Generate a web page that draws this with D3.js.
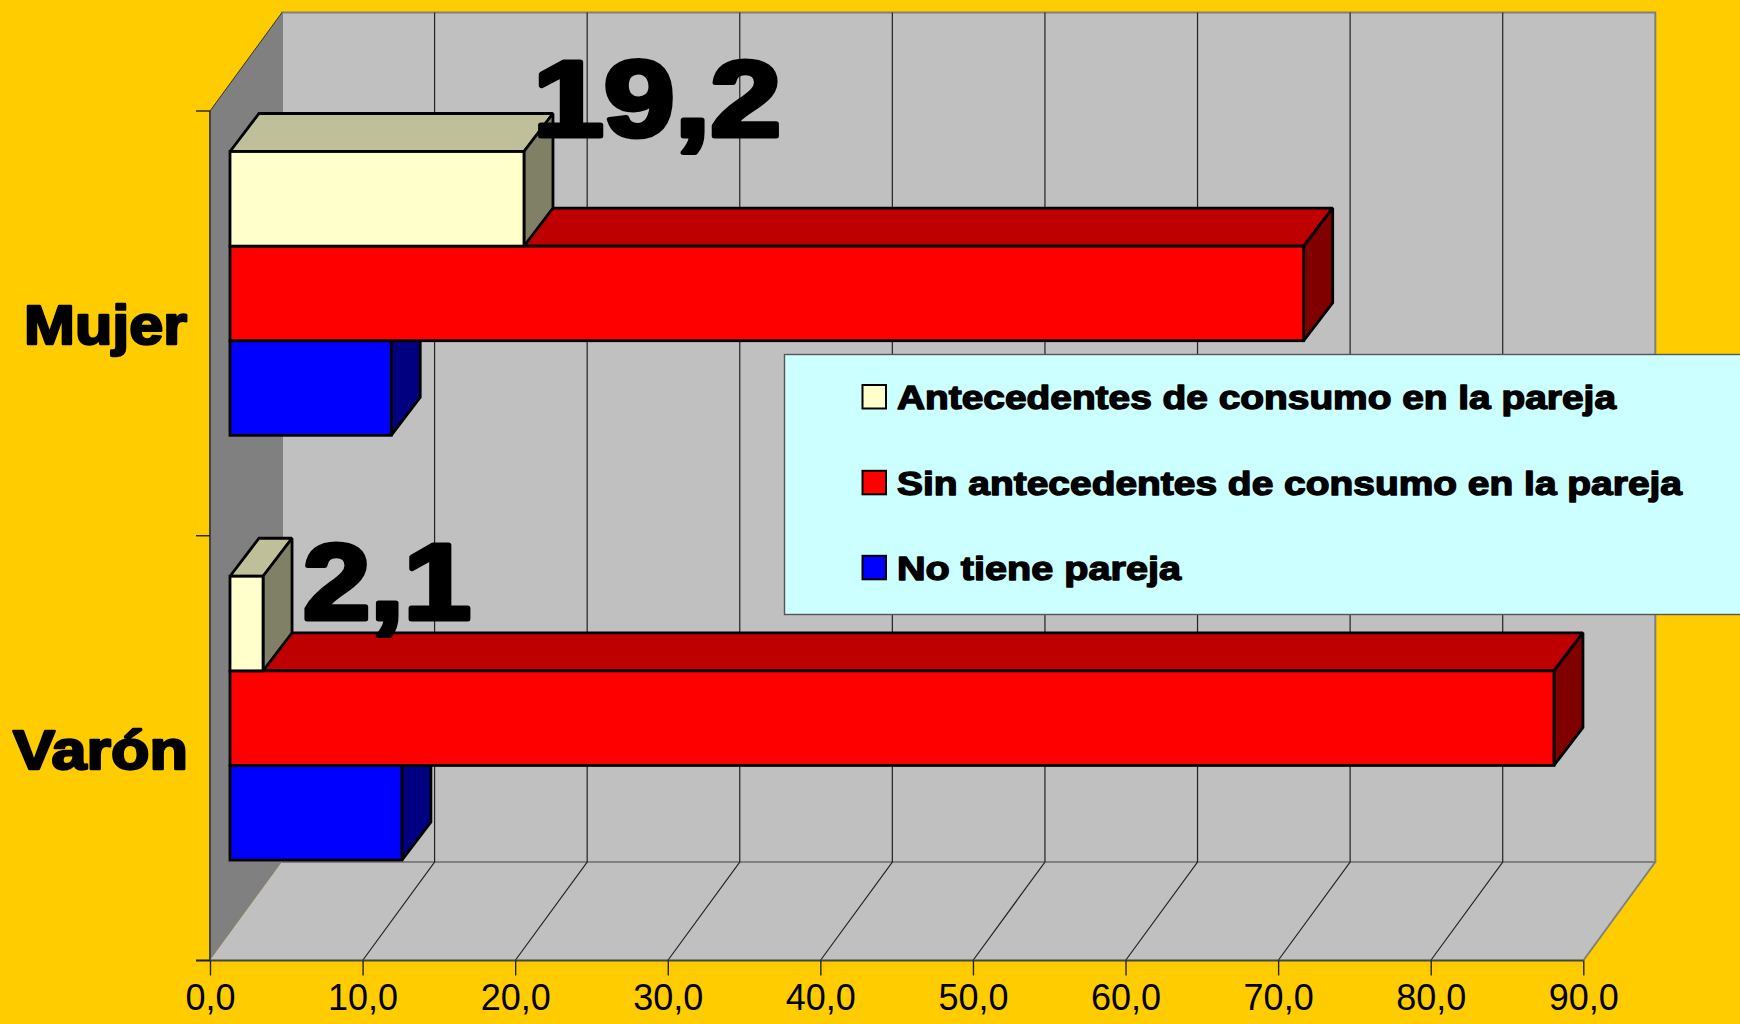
<!DOCTYPE html>
<html><head><meta charset="utf-8">
<script src="https://cdn.jsdelivr.net/npm/d3@7"></script>
<style>html,body{margin:0;padding:0;background:#ffcc00;overflow:hidden}svg{display:block}</style>
</head><body><svg id="c" width="1740" height="1024"></svg>
<script>
const categories = ["Mujer","Varón"];
const seriesNames = ["Antecedentes de consumo en la pareja","Sin antecedentes de consumo en la pareja","No tiene pareja"];
const antecedentes = [19.2,2.1];
const sinAntecedentes = [70.3,86.7];
const noTiene = [10.5,11.2];
const xTicks = [0,10,20,30,40,50,60,70,80,90];
const dataLabels = ["19,2","2,1"];
const faceColors = ["#ffffcc","#ff0000","#0000ff"];
const topColors = ["#bfbf99","#bf0000","#0000bf"];
const sideColors = ["#808066","#800000","#000080"];

const svg = d3.select("#c");
const W=1740,H=1024;
svg.append("rect").attr("width",W).attr("height",H).attr("fill","#ffcc00");
const x = d3.scaleLinear().domain([0,90]).range([210,1583.3]);
const y = d3.scaleBand().domain(categories).range([111,960.5]);
const depthX=72, depthY=-98.5;
const poly=(pts)=>pts.map(p=>p.join(",")).join(" ");
const yTop=y.range()[0], yBot=y.range()[1];

// walls
svg.append("polygon").attr("points",poly([[x(0),yTop],[x(0)+depthX,yTop+depthY],[x(0)+depthX,yBot+depthY],[x(0),yBot]])).attr("fill","#808080");
svg.append("polygon").attr("points",poly([[x(0)+depthX,yTop+depthY],[x(90)+depthX,yTop+depthY],[x(90)+depthX,yBot+depthY],[x(0)+depthX,yBot+depthY]])).attr("fill","#c0c0c0").attr("stroke","#808080").attr("stroke-width",2);
svg.append("polygon").attr("points",poly([[x(0),yBot],[x(90),yBot],[x(90)+depthX,yBot+depthY],[x(0)+depthX,yBot+depthY]])).attr("fill","#c0c0c0");
svg.append("line").attr("x1",x(90)).attr("y1",yBot).attr("x2",x(90)+depthX).attr("y2",yBot+depthY).attr("stroke","#808080").attr("stroke-width",2);
svg.append("line").attr("x1",x(0)+depthX).attr("y1",yBot+depthY).attr("x2",x(90)+depthX).attr("y2",yBot+depthY).attr("stroke","#808080").attr("stroke-width",2);
svg.append("line").attr("x1",x(0)).attr("y1",yTop).attr("x2",x(0)+depthX).attr("y2",yTop+depthY).attr("stroke","#333").attr("stroke-width",1);

// grid
const grid=svg.append("g").attr("stroke","#222").attr("stroke-width",1.2).attr("fill","none");
xTicks.slice(1,-1).forEach(t=>{
  grid.append("path").attr("d",`M${x(t)},${yBot}L${x(t)+depthX},${yBot+depthY}L${x(t)+depthX},${yTop+depthY}`);
});

// axes
const xAxis=d3.axisBottom(x).tickValues(xTicks).tickSize(15).tickPadding(9).tickFormat(d=>d.toFixed(1).replace(".",","));
const gx=svg.append("g").attr("transform",`translate(0,${yBot})`).call(xAxis);
gx.selectAll("text").attr("font-family","'Liberation Sans',Arial,sans-serif").attr("font-size",36).attr("fill","#000");
gx.selectAll("line").attr("stroke","#222").attr("stroke-width",1.4);
gx.select(".domain").attr("stroke","#444").attr("stroke-width",2).attr("d",`M${x(0)-14},0H${x(90)}`);

const yAxis=d3.axisLeft(y).tickSize(0).tickFormat("");
const gy=svg.append("g").attr("transform",`translate(${x(0)},0)`).call(yAxis);
gy.select(".domain").attr("stroke","#444").attr("stroke-width",2).attr("d",`M0,${yTop}V${yBot}`);
gy.selectAll(".tick").remove();
[yTop,(yTop+yBot)/2,yBot].forEach(v=>svg.append("line").attr("x1",x(0)-14).attr("x2",x(0)).attr("y1",v).attr("y2",v).attr("stroke","#222").attr("stroke-width",1.4));

// bars: drawn last series first, so each bar's top is covered by the bar above it
const barX=v=>x(v)+20;
const barDX=29, barDY=-38;
const seriesVals=[antecedentes,sinAntecedentes,noTiene];
const barH=94.6;
const barGroup=svg.append("g").attr("stroke","#000").attr("stroke-width",2.8).attr("stroke-linejoin","miter").attr("stroke-miterlimit",1.5);
categories.forEach((c,ci)=>{
  const top0=y(c)+40.5;
  [2,1,0].forEach(si=>{
    const v=seriesVals[si][ci], t=top0+si*barH, b=t+barH, l=barX(0), r=barX(v)+1;
    barGroup.append("polygon").attr("points",poly([[l,t],[l+barDX,t+barDY],[r+barDX,t+barDY],[r,t]])).attr("fill",topColors[si]);
    barGroup.append("polygon").attr("points",poly([[r,t],[r+barDX,t+barDY],[r+barDX,b+barDY],[r,b]])).attr("fill",sideColors[si]);
    barGroup.append("rect").attr("x",l).attr("y",t).attr("width",r-l).attr("height",barH).attr("fill",faceColors[si]);
  });
});

const bold=(sel)=>sel.attr("font-family","'Liberation Sans',Arial,sans-serif").attr("font-weight",700).attr("fill","#000").attr("stroke","#000").attr("stroke-linejoin","round");

// category labels
[[24,344,163],[13,769,175]].forEach((d,i)=>{
  bold(svg.append("text")).attr("x",d[0]).attr("y",d[1]).attr("font-size",55).attr("stroke-width",2.4)
    .attr("textLength",d[2]).attr("lengthAdjust","spacingAndGlyphs").text(categories[i]);
});

// data labels
[[533,136,248],[303,619,168]].forEach((d,i)=>{
  bold(svg.append("text")).attr("x",d[0]).attr("y",d[1]).attr("font-size",108).attr("stroke-width",5)
    .attr("textLength",d[2]).attr("lengthAdjust","spacingAndGlyphs").text(dataLabels[i]);
});

// legend
svg.append("rect").attr("x",784.5).attr("y",354.5).attr("width",960).attr("height",260).attr("fill","#ccffff").attr("stroke","#555").attr("stroke-width",1.4);
const legendY=[397,482.8,567.8];
const legendLen=[719,785,284];
seriesNames.forEach((n,i)=>{
  svg.append("rect").attr("x",862.5).attr("y",legendY[i]-12).attr("width",23.5).attr("height",23.5).attr("fill",faceColors[i]).attr("stroke","#000").attr("stroke-width",2);
  bold(svg.append("text")).attr("x",897).attr("y",legendY[i]+12).attr("font-size",33).attr("stroke-width",1.4)
    .attr("textLength",legendLen[i]).attr("lengthAdjust","spacingAndGlyphs").text(n);
});
</script></body></html>
